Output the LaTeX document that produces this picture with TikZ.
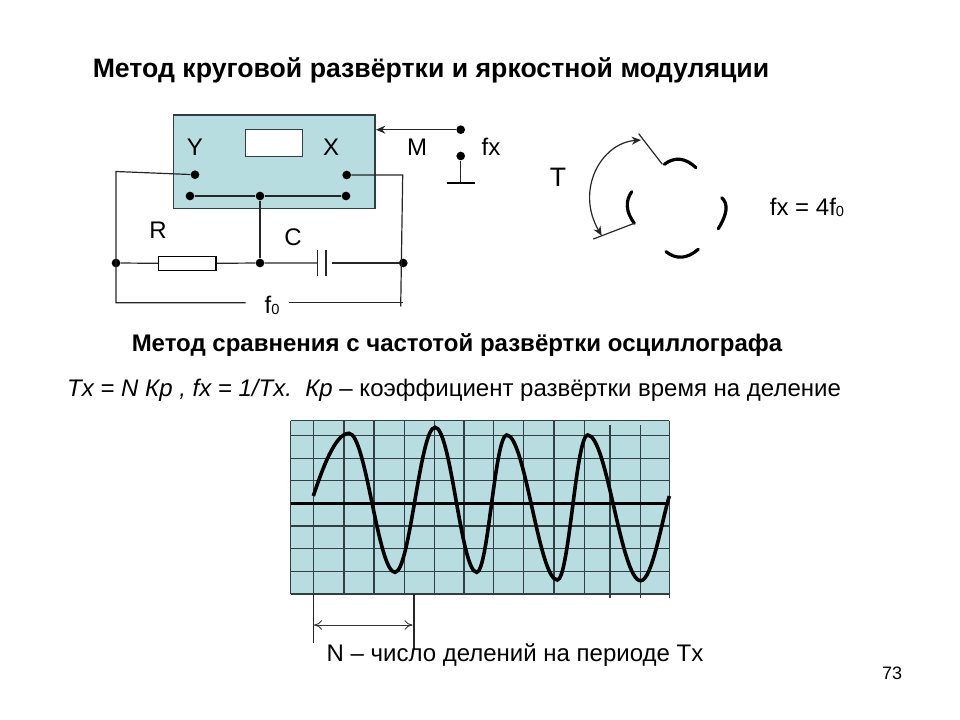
\documentclass[tikz,border=0pt]{standalone}
\usepackage{fontspec}
\setmainfont{Liberation Sans}
\usetikzlibrary{arrows,arrows.meta,positioning}
\definecolor{screen}{HTML}{B8DDE1}
\definecolor{gridline}{HTML}{2F3F42}
\newcommand{\lowzero}{\raisebox{-0.6pt}{\fontsize{11}{11}\selectfont 0}}
\tikzstyle{dot} = [circle, fill=black, inner sep=0pt, minimum size=6.5pt]
\tikzstyle{wire} = [line width=0.9pt, black!85]
\tikzstyle{label} = [inner sep=0pt, font=\fontsize{18}{20}\selectfont]
\tikzstyle{heading} = [inner sep=0pt, font=\fontsize{18}{20}\selectfont\bfseries]
\tikzstyle{arc} = [line width=2.4pt, line cap=round]
\tikzstyle{trace} = [line width=2.7pt, black]
\tikzstyle{gridrule} = [line width=1.1pt, gridline]
\begin{document}
\begin{tikzpicture}[x=0.75pt, y=-0.75pt]
            \useasboundingbox (0,0) rectangle (960,720);
            % headings
            \node (title)  [heading, font=\fontsize{20}{22}\selectfont\bfseries] at (431,70)  {Метод круговой развёртки и яркостной модуляции};
            \node (method) [heading] at (457,345) {Метод сравнения с частотой развёртки осциллографа};
            \node (formula) [label] at (454,390.5) {\itshape Tx = N Кр , fx = 1/Tx.\ \ Кр\upshape\ – коэффициент развёртки время на деление};
            % oscilloscope
            \fill [screen] (173.5,115) rectangle (375,208.5);
            \draw [gridline, line width=0.9pt] (173.5,115) rectangle (375,208.5);
            \node (tube) [draw=gridline, line width=0.9pt, fill=white, minimum width=43pt, minimum height=20.5pt, inner sep=0pt] at (274,143) {};
            \node (Y) [label] at (195,147) {Y};
            \node (X) [label] at (331,147) {X};
            \node (yin)   [dot] at (195,174.7) {};
            \node (xin)   [dot] at (346.7,175) {};
            \node (yback) [dot] at (190,196) {};
            \node (mid)   [dot] at (260,196) {};
            \node (xback) [dot] at (346,196) {};
            % RC chain
            \node (left)  [dot] at (116,263) {};
            \node (tee)   [dot] at (260,263) {};
            \node (right) [dot] at (403.3,263) {};
            \node (res) [draw, line width=0.8pt, fill=white, minimum width=43pt, minimum height=10pt, inner sep=0pt] at (187.3,263.5) {};
            \coordinate (capl) at (317.3,263);
            \coordinate (capr) at (326,263);
            \coordinate (capw) at (331.7,263);
            \node (R) [label] at (158,230) {R};
            \node (C) [label] at (293,237) {C};
            \node (f0) [label] at (272,305) {f\lowzero};
            \coordinate (ytop) at (116,171.5);
            \coordinate (xtop) at (402.7,175);
            \coordinate (lowl) at (116,302.7);
            \coordinate (lowm) at (245.7,302.7);
            \coordinate (lown) at (289,302.7);
            \coordinate (lowr) at (400.7,306.5);
            \coordinate (lowe) at (403,302.7);
            \draw [wire] (yin) -- (ytop) -- (lowl) -- (lowm);
            \draw [wire] (xin) -- (xtop) -- (lowr);
            \draw [wire] (lown) -- (lowe);
            \draw [wire] (yback) -- (mid) -- (xback);
            \draw [wire] (mid) -- (tee);
            \draw [wire] (left) -- (res) -- (tee) -- (capl);
            \draw [wire] (capw) -- (right);
            \draw [wire] (capl) ++(0,-13) -- ++(0,25.7);
            \draw [wire] (capr) ++(0,-13) -- ++(0,25.7);
            % switch
            \node (M) [label] at (417,147) {M};
            \node (fx) [label] at (491,147) {fx};
            \node (swa) [dot] at (460.7,129.7) {};
            \node (swb) [dot] at (460.7,156) {};
            \coordinate (gnd) at (460.7,182.7);
            \coordinate (boxin) at (376,129.7);
            \draw [wire, -{Stealth[length=7pt,width=6pt]}] (swa) -- (boxin);
            \draw [wire] (swb) -- (gnd);
            \draw [line width=1.3pt] (446.7,182.7) -- (475,182.7);
            % circular sweep
            \node (T) [label, font=\fontsize{20}{22}\selectfont] at (558,177) {T};
            \node (ratio) [label] at (807,207) {fx = 4f\lowzero};
            \draw [arc] (664.3,164.3) .. controls (674.7,156.5) and (685.2,157.6) .. (696,167.7);
            \draw [arc] (721.7,197.7) .. controls (728.6,203.8) and (727.3,214.1) .. (718.3,228.7);
            \draw [arc] (666,251.7) .. controls (676.2,259.6) and (686.9,259.1) .. (698.3,249.3);
            \draw [arc] (631.7,191.7) .. controls (625,201.2) and (625.9,212) .. (634.3,223.3);
            \draw [wire] (638.7,133.7) -- (662.3,164.3);
            \draw [wire] (593.3,239) -- (634.3,223.3);
            \draw [wire, {Stealth[length=7pt,width=6pt]}-{Stealth[length=7pt,width=6pt]}] (641,140) .. controls (601,143) and (575,190) .. (601.7,235.7);
            % graticule
            \fill [screen] (290.7,420.7) rectangle (669.3,594);
            \foreach \gx in {290.7,313.3,344,374,404.3,434.3,464,493.7,523.7,554,584.3}
                \draw [gridrule] (\gx,420.7) -- (\gx,594);
            \foreach \gx in {610,640.3}
                \draw [gridrule] (\gx,425) -- (\gx,598);
            \draw [gridrule] (669.3,420.7) -- (669.3,598);
            \foreach \gy in {420.7,435.3,458.3,480.7,526,548.7,571.7,594}
                \draw [gridrule] (290.7,\gy) -- (669.3,\gy);
            \draw [line width=2.2pt] (290.7,503.3) -- (669.3,503.3);
            % signal
            \draw [trace] (313.3,496) .. controls (322,470) and (335,433.3) .. (349,433.3)
                .. controls (366,433.3) and (378,572.3) .. (395,572.3)
                .. controls (410,572.3) and (420,427.3) .. (435,427.3)
                .. controls (451,427.3) and (461,572.3) .. (476.7,572.3)
                .. controls (488,572.3) and (495,435) .. (506.7,435)
                .. controls (525,435) and (539,580) .. (557.3,580)
                .. controls (569,580) and (576,435) .. (587.7,435)
                .. controls (607,435) and (621,580.7) .. (640.7,580.7)
                .. controls (652,580.7) and (662,520) .. (669.3,496);
            % period marks
            \coordinate (pa) at (313.3,594);
            \coordinate (pb) at (414,594);
            \coordinate (paend) at (313.3,643);
            \coordinate (pbend) at (414,650);
            \coordinate (pal) at (314,625);
            \coordinate (pbl) at (412.5,625);
            \draw [wire] (pa) -- (paend);
            \draw [wire] (pb) -- (pbend);
            \draw [line width=0.7pt, black!80, {To[length=6pt,width=7pt]}-{To[length=6pt,width=7pt]}] (pal) -- (pbl);
            \node (note) [label] at (515,655) {N – число делений на периоде Tx};
            \node (page) [inner sep=0pt, font=\fontsize{13.5}{16}\selectfont] at (892,673) {73};
        \end{tikzpicture}
\end{document}
